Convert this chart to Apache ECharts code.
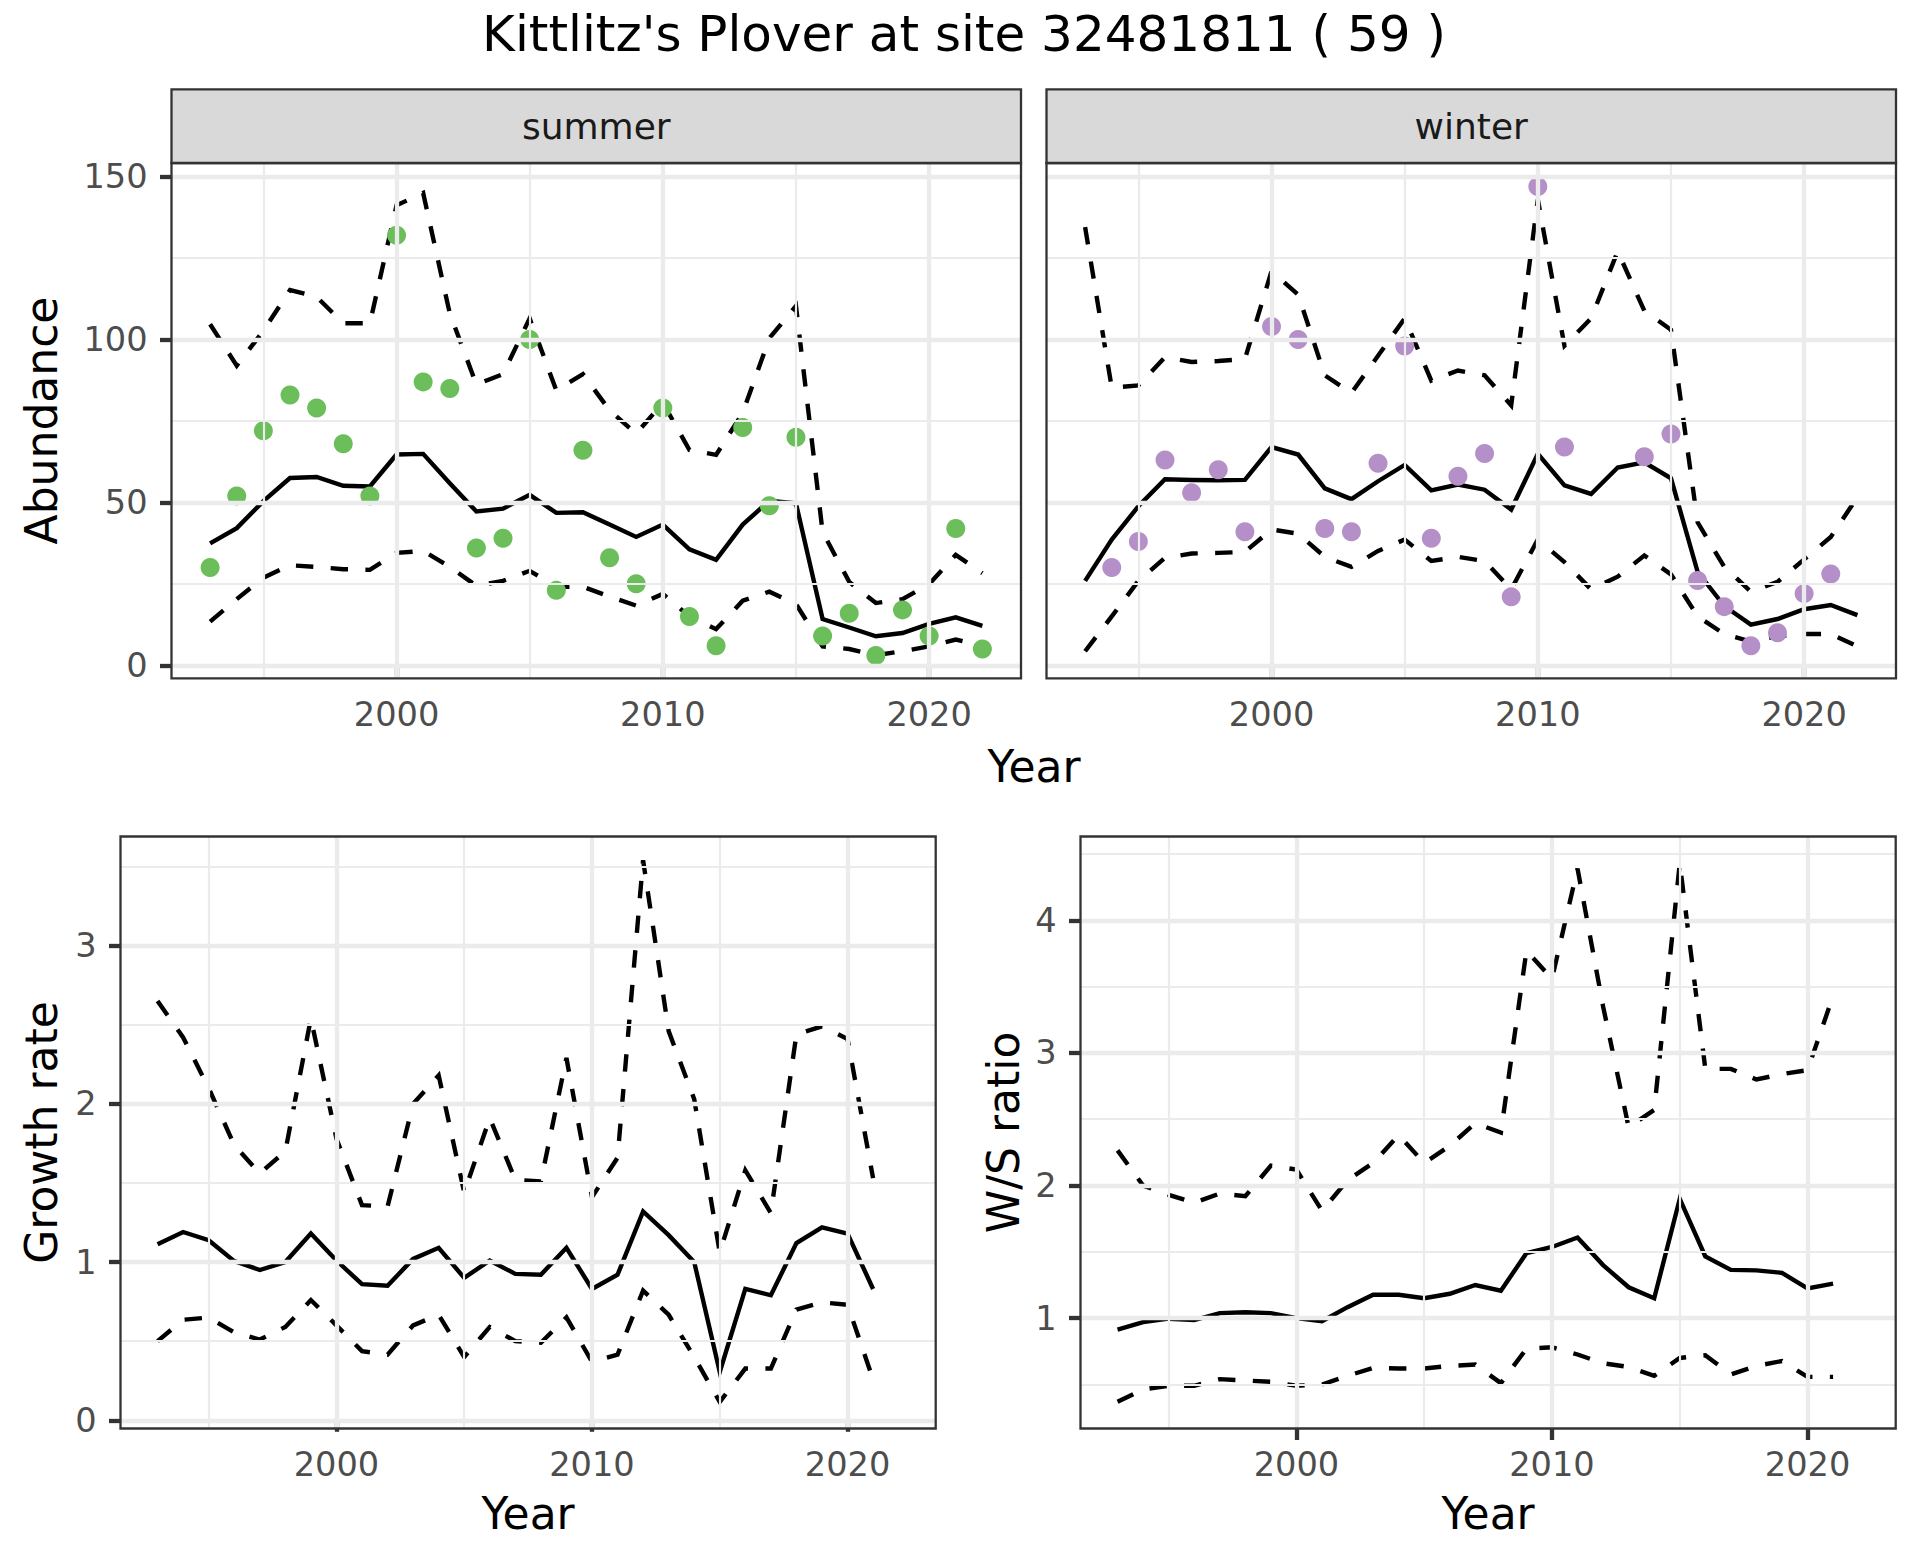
<!DOCTYPE html>
<html>
<head>
<meta charset="utf-8">
<script src="https://cdn.jsdelivr.net/npm/echarts@6/dist/echarts.min.js"></script>
<style>html,body{margin:0;padding:0;background:#ffffff}#c{width:1920px;height:1560px}</style>
</head>
<body>
<div id="c"></div>
<script>
// ---------- data ----------
const years = [1993,1994,1995,1996,1997,1998,1999,2000,2001,2002,2003,2004,2005,2006,2007,2008,2009,2010,2011,2012,2013,2014,2015,2016,2017,2018,2019,2020,2021,2022];
const rateYears = [1993,1994,1995,1996,1997,1998,1999,2000,2001,2002,2003,2004,2005,2006,2007,2008,2009,2010,2011,2012,2013,2014,2015,2016,2017,2018,2019,2020,2021];

const summerCount = [30,52,72,83,79,68,52,132,87,85,36,39,100,23,66,33,25,79,15,6,73,49,70,9,16,3,17,9,42,5];
const summerMean  = [37.4,42.1,50.4,57.5,57.8,55.1,54.9,64.7,64.9,55.9,47.2,48.1,52.3,46.8,47.0,43.2,39.4,43.2,35.6,32.4,43.2,50.5,49.7,14.2,11.6,8.9,9.9,12.7,14.7,12.1];
const summerUpper = [104.7,92.0,102.7,115.2,113.1,105,105,141.2,145,108,86.2,89.4,106.5,84.4,89.4,78.3,71.1,80.6,66.1,64.6,77.5,100.4,110.3,40.9,25.6,19.1,20.3,24.9,33.9,28.3];
const summerLower = [13.4,20.3,26.9,30.7,30.2,29.5,29.3,34.5,35.1,30.2,24.4,25.9,29,24.1,24.1,21.1,18.3,21.9,15,11.1,19.8,22.6,18.8,5.8,5.0,3.1,4.3,5.8,7.9,6.0];

const winterCount = [null,30,38,63,53,60,41,104,100,42,41,62,98,39,58,65,21,147,67,null,null,64,71,26,18,6,10,22,28,null];
const winterMean  = [25.9,38.6,48.8,57.1,56.9,56.8,56.9,67.0,64.7,54.3,51.0,56.5,61.5,53.7,55.5,53.9,47.8,64.9,55.2,52.6,60.7,62.3,57.4,28.7,18.2,12.5,14.2,17.2,18.5,15.4];
const winterUpper = [134.5,85.2,85.9,94.6,93.1,93.4,94,121,113.8,89,83.6,95,106.5,87.4,90.5,89,79.8,143,98.1,106.5,127.1,108.8,103,43.9,30.2,22.6,25.6,32.5,39.4,51.6];
const winterLower = [4.3,15,25.9,33,34.3,34.5,34.8,41.7,40.4,33.3,30.2,35.1,38.6,32,33.3,32,23.3,38.6,31.7,23.3,27.2,33.7,27.9,15,9.6,7.3,8.9,9.6,9.6,5.8];

const growthMean  = [1.113,1.19,1.138,1.006,0.95,1.0,1.18,1.01,0.86,0.85,1.02,1.09,0.90,1.01,0.925,0.92,1.09,0.83,0.92,1.32,1.17,1.0,0.305,0.83,0.79,1.12,1.22,1.18,0.83];
const growthUpper = [2.65,2.42,2.1,1.74,1.56,1.70,2.54,1.78,1.36,1.35,2.0,2.18,1.44,1.91,1.52,1.51,2.29,1.41,1.66,3.54,2.46,2.03,1.06,1.58,1.31,2.44,2.49,2.41,1.53];
const growthLower = [0.5,0.635,0.65,0.556,0.51,0.59,0.76,0.60,0.437,0.415,0.60,0.667,0.40,0.59,0.5,0.49,0.65,0.37,0.415,0.82,0.667,0.40,0.116,0.327,0.327,0.70,0.745,0.73,0.258];

const wsMean  = [0.914,0.97,0.996,0.985,1.038,1.045,1.038,1.0,0.977,1.083,1.176,1.176,1.15,1.184,1.25,1.207,1.49,1.537,1.608,1.40,1.233,1.15,1.90,1.466,1.364,1.36,1.342,1.225,1.26];
const wsUpper = [2.265,2.0,1.93,1.87,1.94,1.92,2.15,2.12,1.81,2.04,2.17,2.38,2.17,2.30,2.47,2.40,3.77,3.56,4.39,3.35,2.44,2.57,4.43,2.88,2.88,2.80,2.84,2.87,3.43];
const wsLower = [0.37,0.463,0.49,0.49,0.54,0.53,0.52,0.49,0.50,0.565,0.625,0.62,0.62,0.64,0.65,0.51,0.77,0.78,0.726,0.66,0.632,0.565,0.70,0.72,0.576,0.64,0.677,0.557,0.557];

const xTicks = [2000,2010,2020];
const xMinor = [1995,2005,2015];
const abundTicks = [0,50,100,150];
const abundMinor = [25,75,125];
const growthTicks = [0,1,2,3];
const growthMinor = [0.5,1.5,2.5,3.5];
const wsTicks = [1,2,3,4];
const wsMinor = [0.5,1.5,2.5,3.5,4.5];

const titleText = "Kittlitz's Plover at site 32481811 ( 59 )";
const stripLabels = ['summer','winter'];

// ---------- layout / style ----------
const FONT = 'DejaVu Sans';
const BORDER = '#333333';
const GRIDC = '#EBEBEB';
const panels = [
  {left:171.5, top:163, width:849.5, height:515.3, ymin:-4.0, ymax:154.2, yt:abundTicks, ym:abundMinor, ylab:true},
  {left:1046.5, top:163, width:849.5, height:515.3, ymin:-4.0, ymax:154.2, yt:abundTicks, ym:abundMinor, ylab:false},
  {left:120.5, top:836.5, width:815.2, height:592, ymin:-0.052, ymax:3.69, yt:growthTicks, ym:growthMinor, ylab:true},
  {left:1080.5, top:836.5, width:815.2, height:592, ymin:0.168, ymax:4.632, yt:wsTicks, ym:wsMinor, ylab:true}
];
const XMIN = 1991.55, XMAX = 2023.45;

const pairs = (xs, ys) => xs.map((x, i) => [x, ys[i]]);

const grids = panels.map(p => ({
  left: p.left, top: p.top, width: p.width, height: p.height,
  show: true, borderColor: BORDER, borderWidth: 2.3, backgroundColor: 'transparent',
  containLabel: false, outerBoundsMode: 'none', z: 10
}));

const labelStyle = {fontFamily: FONT, fontSize: 33.6, color: '#4D4D4D'};
const tickStyle = {color: BORDER, width: 4.3};

const xAxes = panels.map((p, i) => ({
  type: 'value', gridIndex: i, min: XMIN, max: XMAX,
  axisLine: {show: false},
  axisTick: {show: true, customValues: xTicks, length: 11.5, inside: false, lineStyle: tickStyle},
  axisLabel: Object.assign({show: true, customValues: xTicks, margin: 19, formatter: v => String(v)}, labelStyle),
  splitLine: {show: false}, minorSplitLine: {show: false}
}));

const yAxes = panels.map((p, i) => ({
  type: 'value', gridIndex: i, min: p.ymin, max: p.ymax,
  axisLine: {show: false},
  axisTick: {show: p.ylab, customValues: p.yt, length: 11.5, inside: false, lineStyle: tickStyle},
  axisLabel: Object.assign({show: p.ylab, customValues: p.yt, margin: 24, formatter: v => String(v)}, labelStyle),
  splitLine: {show: false}, minorSplitLine: {show: false}
}));

function gridLines(i) {
  const p = panels[i];
  const item = (key, v, w) => ({[key]: v, lineStyle: {color: GRIDC, width: w, type: 'solid'}});
  const data = [];
  xMinor.forEach(v => data.push(item('xAxis', v, 2.2)));
  p.ym.forEach(v => data.push(item('yAxis', v, 2.2)));
  xTicks.forEach(v => data.push(item('xAxis', v, 4.3)));
  p.yt.forEach(v => data.push(item('yAxis', v, 4.3)));
  return {
    type: 'line', xAxisIndex: i, yAxisIndex: i, data: [], silent: true, z: 1,
    symbol: 'none',
    markLine: {
      silent: true, symbol: ['none', 'none'], label: {show: false},
      lineStyle: {color: GRIDC, type: 'solid'}, animation: false,
      emphasis: {disabled: true},
      data: data
    }
  };
}

function line(i, xs, ys, dashed) {
  return {
    type: 'line', xAxisIndex: i, yAxisIndex: i, data: pairs(xs, ys),
    symbol: 'none', smooth: false, z: 3, silent: true, connectNulls: false,
    lineStyle: {color: '#000000', width: 4.4, type: dashed ? [17.4, 17.4] : 'solid', cap: 'butt', join: 'miter'},
    emphasis: {disabled: true}
  };
}

function dots(i, xs, ys, color) {
  return {
    type: 'scatter', xAxisIndex: i, yAxisIndex: i, data: pairs(xs, ys).filter(d => d[1] !== null),
    symbol: 'circle', symbolSize: 19, z: 4, silent: true,
    itemStyle: {color: color, opacity: 1},
    emphasis: {disabled: true}
  };
}

const series = [
  gridLines(0), gridLines(1), gridLines(2), gridLines(3),
  line(0, years, summerLower, true), line(0, years, summerUpper, true), line(0, years, summerMean, false),
  dots(0, years, summerCount, '#6BBE5A'),
  line(1, years, winterLower, true), line(1, years, winterUpper, true), line(1, years, winterMean, false),
  dots(1, years, winterCount, '#B590C8'),
  line(2, rateYears, growthLower, true), line(2, rateYears, growthUpper, true), line(2, rateYears, growthMean, false),
  line(3, rateYears, wsLower, true), line(3, rateYears, wsUpper, true), line(3, rateYears, wsMean, false)
];

function txt(text, x, y, size, rot, color) {
  return {
    type: 'text', x: x, y: y, rotation: rot || 0, z: 20, silent: true,
    style: {text: text, fontFamily: FONT, fontSize: size, fill: color || '#000000',
            textAlign: 'center', textVerticalAlign: 'middle', align: 'center', verticalAlign: 'middle'}
  };
}

const graphics = [
  {type: 'rect', z: 15, silent: true,
   shape: {x: panels[0].left, y: 89.3, width: panels[0].width, height: panels[0].top - 89.3},
   style: {fill: '#D9D9D9', stroke: BORDER, lineWidth: 2.3}},
  {type: 'rect', z: 15, silent: true,
   shape: {x: panels[1].left, y: 89.3, width: panels[1].width, height: panels[1].top - 89.3},
   style: {fill: '#D9D9D9', stroke: BORDER, lineWidth: 2.3}},
  txt(stripLabels[0], panels[0].left + panels[0].width / 2, 126.5, 36, 0, '#1A1A1A'),
  txt(stripLabels[1], panels[1].left + panels[1].width / 2, 126.5, 36, 0, '#1A1A1A'),
  txt(titleText, 964, 34.4, 50, 0),
  txt('Abundance', 41, 420.5, 44, Math.PI / 2),
  txt('Year', 1034, 766.5, 44, 0),
  txt('Growth rate', 41, 1132.5, 44, Math.PI / 2),
  txt('Year', panels[2].left + panels[2].width / 2, 1513, 44, 0),
  txt('W/S ratio', 1003, 1132.5, 44, Math.PI / 2),
  txt('Year', panels[3].left + panels[3].width / 2, 1513, 44, 0)
];

const chart = echarts.init(document.getElementById('c'), null, {renderer: 'svg', width: 1920, height: 1560});
chart.setOption({
  backgroundColor: '#ffffff',
  animation: false,
  grid: grids,
  xAxis: xAxes,
  yAxis: yAxes,
  series: series,
  graphic: graphics
});
</script>
</body>
</html>
